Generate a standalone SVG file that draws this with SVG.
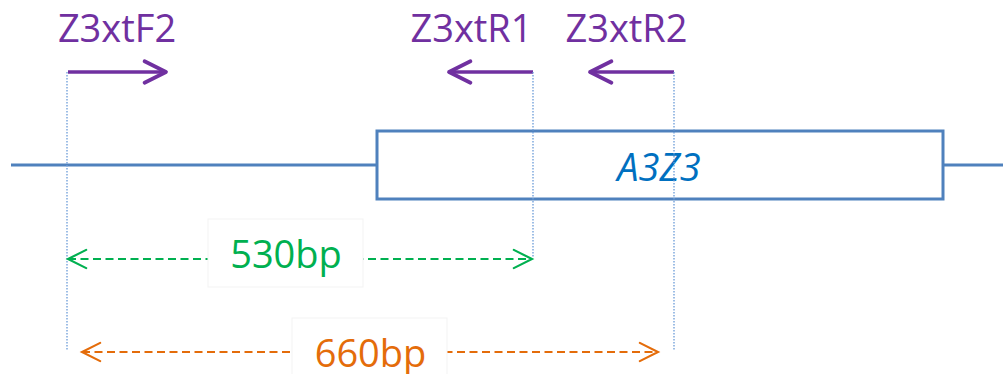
<svg xmlns="http://www.w3.org/2000/svg" width="1003" height="374" viewBox="0 0 1003 374">
<style>
.lbl{font-family:"Open Sans","Noto Sans","Liberation Sans",sans-serif;font-size:38px;text-anchor:middle}
.purple{fill:#7030A0}
.gene{stroke:#4F81BD;stroke-width:3;fill:none}
.primer{stroke:#7030A0;stroke-width:3.5;fill:none;marker-end:url(#pArr)}
.guide{stroke:#6A9BD8;stroke-width:1.3;stroke-dasharray:1.5 1.5;fill:none}
.green{stroke:#00B050;stroke-width:2;stroke-dasharray:8 4.5;fill:none;marker-start:url(#gArr);marker-end:url(#gArr)}
.orange{stroke:#E46C0A;stroke-width:2;stroke-dasharray:8 4.5;fill:none;marker-start:url(#oArr);marker-end:url(#oArr)}
.lblbox{fill:#fff;stroke:#f3f3f3;stroke-width:1}
</style>
<defs>
<marker id="pArr" markerUnits="userSpaceOnUse" orient="auto-start-reverse" markerWidth="30" markerHeight="30" refX="0" refY="0" viewBox="-24 -14 28 28" overflow="visible">
<path d="M-20,-10 L0,0 L-20,10" fill="none" stroke="#7030A0" stroke-width="3.5" stroke-linecap="round" stroke-linejoin="round"/>
</marker>
<marker id="gArr" markerUnits="userSpaceOnUse" orient="auto-start-reverse" markerWidth="30" markerHeight="30" refX="0" refY="0" viewBox="-24 -14 28 28" overflow="visible">
<path d="M-17,-8.5 L0,0 L-17,8.5" fill="none" stroke="#00B050" stroke-width="2" stroke-linecap="round"/>
</marker>
<marker id="oArr" markerUnits="userSpaceOnUse" orient="auto-start-reverse" markerWidth="30" markerHeight="30" refX="0" refY="0" viewBox="-24 -14 28 28" overflow="visible">
<path d="M-17,-8.5 L0,0 L-17,8.5" fill="none" stroke="#E46C0A" stroke-width="2" stroke-linecap="round"/>
</marker>
</defs>

<g id="gene-A3Z3">
<line class="gene" x1="11" y1="165" x2="377" y2="165"/>
<line class="gene" x1="943" y1="165" x2="1003" y2="165"/>
<rect class="gene" x="377" y="131" width="566" height="68"/>
<text class="lbl" x="659" y="181" fill="#0070C0" font-style="italic">A3Z3</text>
</g>

<g id="primer-Z3xtF2">
<text class="lbl purple" x="117" y="42">Z3xtF2</text>
<line class="primer" x1="68" y1="72" x2="166" y2="72"/>
</g>
<g id="primer-Z3xtR1">
<text class="lbl purple" x="471.5" y="42">Z3xtR1</text>
<line class="primer" x1="533" y1="72" x2="449" y2="72"/>
</g>
<g id="primer-Z3xtR2">
<text class="lbl purple" x="626.5" y="42">Z3xtR2</text>
<line class="primer" x1="674" y1="72" x2="590" y2="72"/>
</g>

<g id="connectors">
<line class="guide" x1="67" y1="72" x2="67" y2="351"/>
<line class="guide" x1="533" y1="72" x2="533" y2="258"/>
<line class="guide" x1="674" y1="72" x2="674" y2="351"/>
<line class="green" x1="68" y1="259" x2="532" y2="259"/>
<line class="orange" x1="82" y1="352" x2="658" y2="352"/>
</g>

<g id="size-530bp">
<rect class="lblbox" x="208" y="219" width="155" height="68"/>
<text class="lbl" x="286" y="268" fill="#00B050">530bp</text>
</g>
<g id="size-660bp">
<rect class="lblbox" x="292" y="318" width="155" height="68"/>
<text class="lbl" x="370.5" y="367" fill="#E46C0A">660bp</text>
</g>
</svg>
